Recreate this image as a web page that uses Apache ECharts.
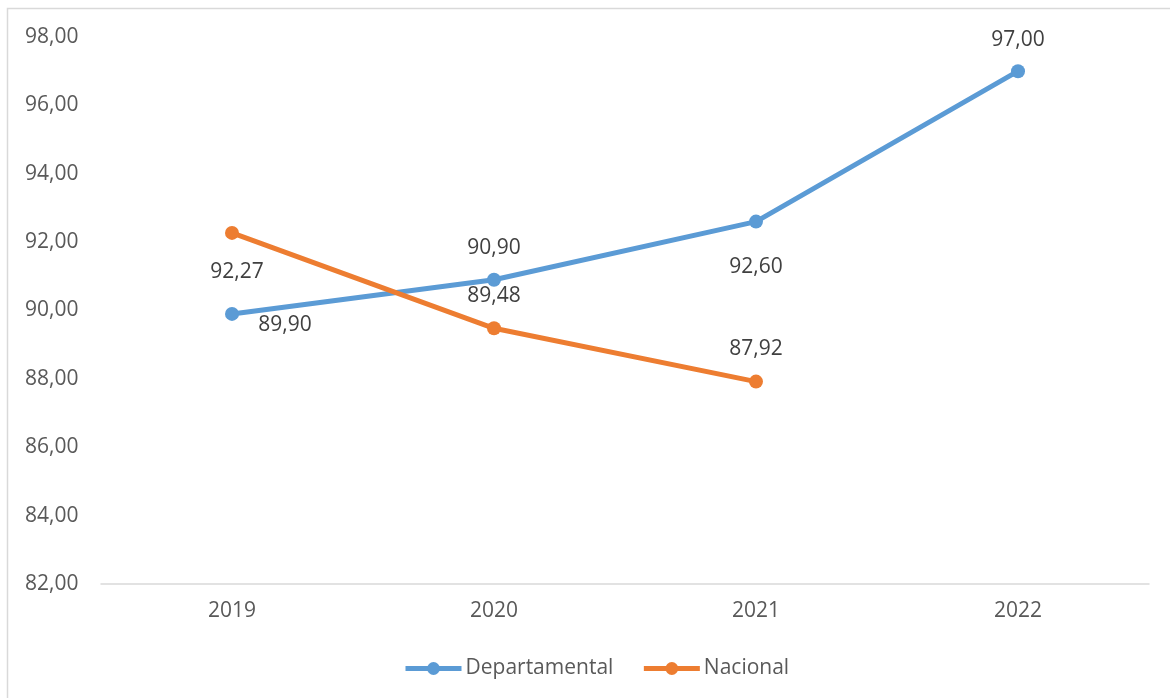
<!DOCTYPE html>
<html><head><meta charset="utf-8">
<script src="https://cdn.jsdelivr.net/npm/echarts@6/dist/echarts.min.js"></script>
<style>html,body{margin:0;padding:0;background:#fff}#c{width:1170px;height:698px}</style>
</head><body><div id="c"></div>
<script>
const categories = ['2019','2020','2021','2022'];
const departamental = [89.90, 90.90, 92.60, 97.00];
const nacional = [92.27, 89.48, 87.92, null];
const yTicks = {min: 82, max: 98, interval: 2};

const depOffsets = [[53, 11], [0, -32], [0, 45], [0, -31]];
const nacOffsets = [[5, 39], [0, -32], [0, -33], [0, 0]];
const fmt = v => v.toFixed(2).replace('.', ',');
const font = '"Open Sans", "Noto Sans", sans-serif';

function build(vals, offs) {
  return vals.map((v, i) => v == null ? null : ({
    value: v,
    label: {show: true, position: 'inside', offset: offs[i], formatter: p => fmt(p.value),
      color: '#404040', fontSize: 21, fontFamily: font}
  }));
}

const chart = echarts.init(document.getElementById('c'));
chart.setOption({
  animation: false,
  graphic: [{type: 'rect', shape: {x: 7.5, y: 8.5, width: 1200, height: 700},
    style: {fill: 'none', stroke: '#d9d9d9', lineWidth: 1.5}}],
  grid: {left: 101, right: 21, top: 37, bottom: 114},
  xAxis: {type: 'category', data: categories, boundaryGap: true,
    axisLine: {lineStyle: {color: '#d9d9d9', width: 1.5}}, axisTick: {show: false},
    axisLabel: {color: '#595959', fontSize: 21, fontFamily: font, margin: 17}},
  yAxis: {type: 'value', min: yTicks.min, max: yTicks.max, interval: yTicks.interval,
    axisLine: {show: false}, axisTick: {show: false}, splitLine: {show: false},
    axisLabel: {color: '#595959', fontSize: 21, fontFamily: font, margin: 76, align: 'left',
      formatter: v => fmt(v)}},
  legend: {bottom: 14, left: 398, itemWidth: 56, itemHeight: 16, itemGap: 28,
    lineStyle: {width: 5},
    textStyle: {color: '#595959', fontSize: 21, fontFamily: font, padding: [0, 0, 0, -1]}},
  series: [
    {name: 'Departamental', type: 'line', data: build(departamental, depOffsets),
     symbol: 'circle', symbolSize: 14, lineStyle: {width: 5, color: '#5b9bd5'},
     itemStyle: {color: '#5b9bd5'}},
    {name: 'Nacional', type: 'line', data: build(nacional, nacOffsets),
     symbol: 'circle', symbolSize: 14, lineStyle: {width: 5, color: '#ed7d31'},
     itemStyle: {color: '#ed7d31'}}
  ]
});
</script></body></html>
